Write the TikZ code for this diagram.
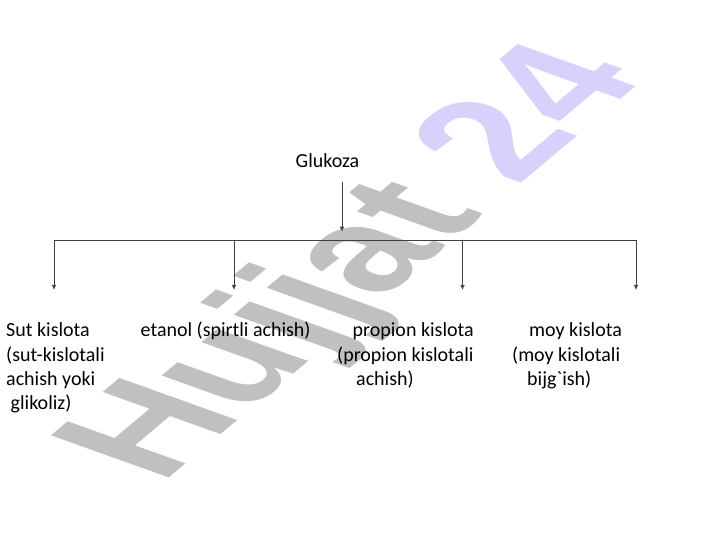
\documentclass[tikz,border=0pt]{standalone}
\usepackage{fontspec}
\setmainfont{Carlito}[Ligatures=TeXOff]
\newfontfamily\wmfont{Liberation Sans}
\usetikzlibrary{arrows.meta}
\definecolor{wmgray}{RGB}{192,192,192}
\definecolor{wmpurple}{RGB}{217,208,252}
\definecolor{linecol}{RGB}{64,64,64}
\begin{document}
\begin{tikzpicture}[x=1pt,y=1pt,
  lbl/.style={anchor=base west,inner sep=0pt,font=\fontsize{20}{24}\selectfont},
  conn/.style={draw=linecol,line width=0.75pt},
  arr/.style={conn,-{Latex[length=5pt,width=4.5pt]}}]
\useasboundingbox (0,0) rectangle (720,540);
\fill[white] (0,0) rectangle (720,540);
% watermark
\begin{scope}[shift={(161.6,55)},cm={1.164,0.977,-1.714,0.613,(0,0)}]
\node[transform shape,anchor=base west,inner sep=0pt,font=\wmfont\bfseries\fontsize{100}{100}\selectfont] (wm) at (0,0) {\color{wmgray}Hujjat \color{wmpurple}24};
\end{scope}
% texts
\node[lbl,anchor=base] (gluk) at (327.5,372) {Glukoza};
\node[lbl] (sut1) at (6,203) {Sut kislota};
\node[lbl] (sut2) at (6,178.5) {(sut-kislotali};
\node[lbl] (sut3) at (6,154) {achish yoki};
\node[lbl] (sut4) at (10.5,130) {glikoliz)};
\node[lbl] (etan) at (140.5,203) {etanol (spirtli achish)};
\node[lbl] (prop1) at (352.5,203) {propion kislota};
\node[lbl] (prop2) at (337,178.5) {(propion kislotali};
\node[lbl] (prop3) at (356,154) {achish)};
\node[lbl] (moy1) at (529,203) {moy kislota};
\node[lbl] (moy2) at (512,178.5) {(moy kislotali};
\node[lbl] (moy3) at (527,154) {bijg`ish)};
% connectors
\coordinate (gtop) at (342,358.3);
\coordinate (gtip) at (342,308.3);
\coordinate (hl) at (54,300);
\coordinate (h2) at (234,300);
\coordinate (h3) at (462.5,300);
\coordinate (hr) at (636,300);
\coordinate (t1) at (54,250);
\coordinate (t2) at (234,250);
\coordinate (t3) at (462.5,250);
\coordinate (t4) at (636,250);
\draw[arr] (gtop) -- (gtip);
\draw[conn] (hl) -- (hr);
\draw[arr] (hl) -- (t1);
\draw[arr] (h2) -- (t2);
\draw[arr] (h3) -- (t3);
\draw[arr] (hr) -- (t4);
\end{tikzpicture}
\end{document}
